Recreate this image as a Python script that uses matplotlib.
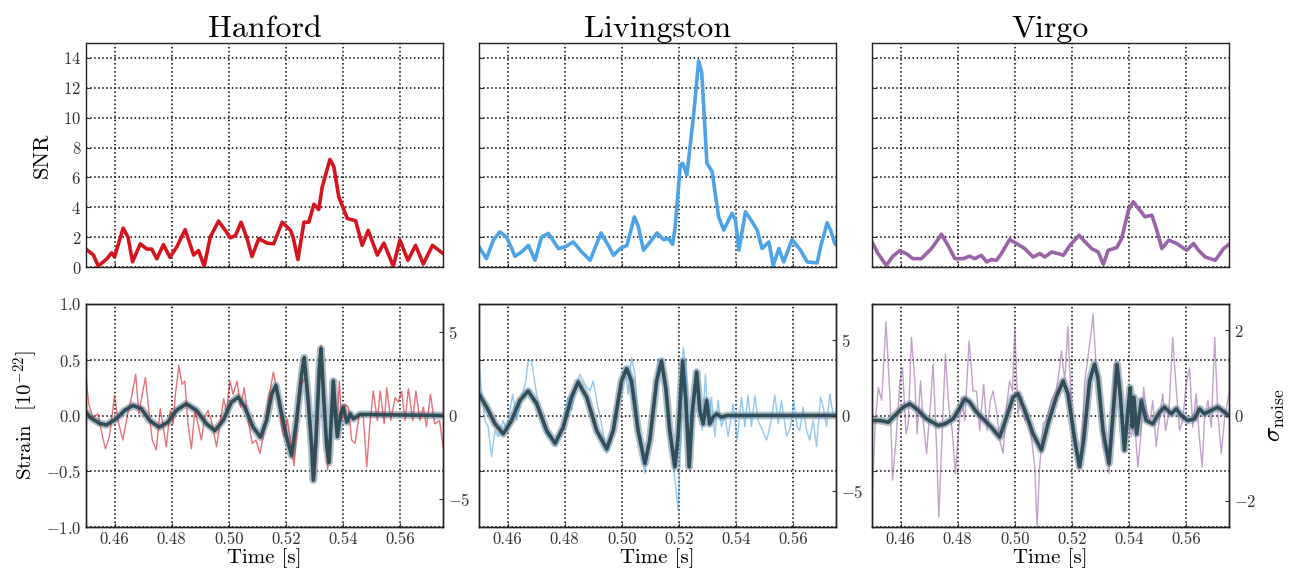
import numpy as np
import matplotlib
matplotlib.use("Agg")
from matplotlib import pyplot as plt

plt.rcParams["font.family"] = "serif"
plt.rcParams["font.serif"] = ["cmr10", "DejaVu Serif"]
plt.rcParams["mathtext.fontset"] = "cm"
plt.rcParams["axes.formatter.use_mathtext"] = True

# ---- data: (time [s], value) ----
# SNR time series
h_snr = np.array([
    [0.450, 1.2], [0.4526, 0.8], [0.4543, 0.05], [0.4573, 0.55], [0.459, 0.95], [0.460, 0.67],
    [0.463, 2.6], [0.4647, 2.0], [0.4663, 0.35], [0.469, 1.55], [0.4713, 1.2], [0.473, 1.2],
    [0.4748, 0.55], [0.4771, 1.5], [0.4794, 0.65], [0.4818, 1.35], [0.4847, 2.5], [0.4877, 0.8],
    [0.4894, 1.1], [0.4914, 0.05], [0.4935, 2.0], [0.4964, 3.07], [0.4988, 2.45], [0.5005, 1.95],
    [0.5023, 2.1], [0.5043, 3.0], [0.5064, 1.9], [0.5081, 0.7], [0.5105, 1.9], [0.5134, 1.6],
    [0.5157, 1.55], [0.5187, 3.0], [0.5216, 2.45], [0.5225, 2.0], [0.5242, 0.5], [0.5263, 3.0],
    [0.528, 3.0], [0.5298, 4.2], [0.5315, 3.85], [0.5327, 5.35], [0.5354, 7.2], [0.5368, 6.7],
    [0.5385, 4.7], [0.5415, 3.25], [0.5444, 3.1], [0.5467, 1.45], [0.5488, 2.45], [0.552, 0.8],
    [0.5543, 1.6], [0.5576, 0.05], [0.5599, 1.8], [0.5627, 0.45], [0.5654, 1.45], [0.5681, 0.2],
    [0.5713, 1.45], [0.575, 0.9]])

l_snr = np.array([
    [0.450, 1.35], [0.4526, 0.56], [0.455, 1.8], [0.4573, 2.35], [0.4597, 2.0], [0.4626, 0.72],
    [0.4649, 1.0], [0.4673, 1.45], [0.4696, 0.45], [0.4719, 2.0], [0.4743, 2.25], [0.4778, 1.23],
    [0.4801, 1.35], [0.483, 1.68], [0.486, 1.0], [0.4889, 0.45], [0.4927, 2.28], [0.4953, 1.45],
    [0.4971, 0.78], [0.4994, 1.23], [0.5018, 1.45], [0.5044, 3.36], [0.5058, 2.7], [0.5076, 1.12],
    [0.5099, 1.68], [0.5123, 2.28], [0.5146, 1.84], [0.5164, 1.9], [0.5178, 1.52], [0.5187, 2.7],
    [0.5205, 6.84], [0.5213, 6.95], [0.5228, 6.17], [0.5251, 10.1], [0.5269, 13.8], [0.528, 13.0],
    [0.5298, 6.95], [0.5316, 6.4], [0.5339, 3.36], [0.5357, 2.47], [0.5386, 3.6], [0.5398, 3.14],
    [0.541, 1.12], [0.5433, 3.7], [0.5456, 3.03], [0.5474, 2.47], [0.5491, 1.23], [0.5515, 1.68],
    [0.553, 0.11], [0.555, 1.23], [0.5567, 0.34], [0.5596, 1.84], [0.5626, 1.12], [0.5649, 0.34],
    [0.5684, 0.27], [0.5696, 1.35], [0.5719, 2.96], [0.5731, 2.47], [0.5746, 1.57], [0.575, 1.5]])

v_snr = np.array([
    [0.450, 1.68], [0.4521, 0.9], [0.455, 0.11], [0.4573, 0.72], [0.4596, 1.08], [0.462, 0.9],
    [0.4643, 0.56], [0.4673, 0.56], [0.4708, 1.23], [0.4725, 1.68], [0.4743, 2.2], [0.4766, 1.45],
    [0.479, 0.56], [0.4819, 0.56], [0.4842, 0.72], [0.486, 0.56], [0.4883, 0.78], [0.4901, 0.34],
    [0.4918, 0.5], [0.4936, 0.45], [0.4953, 0.9], [0.4982, 1.84], [0.5006, 1.57], [0.5035, 1.23],
    [0.5064, 0.67], [0.5088, 0.9], [0.5105, 0.67], [0.5129, 1.0], [0.5152, 0.9], [0.517, 0.78],
    [0.5193, 1.45], [0.5225, 2.13], [0.5246, 1.68], [0.5269, 1.23], [0.5292, 1.0], [0.531, 0.18],
    [0.5327, 1.12], [0.5357, 1.3], [0.5374, 1.9], [0.5398, 3.8], [0.5415, 4.37], [0.5433, 3.92],
    [0.5456, 3.36], [0.548, 3.47], [0.5497, 2.47], [0.5515, 1.23], [0.5539, 1.8], [0.5567, 1.57],
    [0.5602, 1.12], [0.5626, 1.57], [0.5643, 1.12], [0.5667, 0.67], [0.5702, 0.45], [0.5731, 1.23],
    [0.575, 1.52]])

# whitened data (thin lines), strain-axis units
h_data = np.array([
    [0.45, 0.34], [0.451, 0.10], [0.4524, -0.02], [0.4542, 0.015], [0.4553, -0.13], [0.4568, -0.3],
    [0.4582, -0.19], [0.46, 0.18], [0.4612, -0.045], [0.4629, -0.22], [0.4647, 0.03], [0.4658, 0.15],
    [0.4674, 0.37], [0.4685, 0.015], [0.4697, 0.19], [0.4708, 0.34], [0.472, 0.045], [0.4732, -0.22],
    [0.4746, -0.31], [0.476, 0.06], [0.477, -0.1], [0.4781, -0.28], [0.4795, 0.045], [0.4805, -0.075],
    [0.4813, 0.19], [0.4825, 0.45], [0.4836, 0.28], [0.4846, 0.31], [0.4857, -0.075], [0.4869, -0.3],
    [0.4881, 0.045], [0.4892, -0.075], [0.4904, -0.22], [0.4916, -0.015], [0.4927, 0.045],
    [0.4939, -0.045], [0.4957, -0.28], [0.4971, -0.045], [0.4982, 0.15], [0.4992, 0.03],
    [0.5004, 0.31], [0.5015, 0.19], [0.5029, 0.31], [0.5041, 0.075], [0.5054, 0.25], [0.5068, -0.045],
    [0.5082, -0.25], [0.5095, -0.22], [0.5109, -0.34], [0.5123, -0.15], [0.5138, 0.13], [0.5156, 0.39],
    [0.5173, 0.16], [0.5185, -0.1], [0.5193, -0.19], [0.5205, -0.03], [0.5214, -0.19], [0.5228, -0.45],
    [0.5243, 0.015], [0.5255, 0.28], [0.5267, 0.34], [0.5282, 0.015], [0.5294, -0.34], [0.5302, -0.55],
    [0.5311, -0.075], [0.5323, 0.63], [0.5337, 0.015], [0.5346, -0.49], [0.5358, -0.045], [0.5366, 0.22],
    [0.5378, -0.13], [0.5387, 0.31], [0.5395, -0.045], [0.5407, 0.10], [0.5419, 0.075], [0.543, -0.22],
    [0.5442, -0.25], [0.5457, 0.015], [0.5471, -0.015], [0.5483, -0.46], [0.5495, -0.045], [0.5506, 0.22],
    [0.552, -0.045], [0.553, 0.22], [0.5544, -0.075], [0.5553, 0.25], [0.5567, -0.045], [0.5582, 0.16],
    [0.5594, 0.12], [0.5605, 0.22], [0.5617, -0.045], [0.5629, 0.24], [0.5644, -0.045], [0.5655, 0.22],
    [0.5669, -0.045], [0.5681, 0.075], [0.5692, -0.1], [0.5706, 0.19], [0.5721, -0.075],
    [0.5738, -0.045], [0.575, -0.28]])

l_data = np.array([
    [0.45, 0.46], [0.4509, 0.22], [0.4521, -0.045], [0.4532, -0.1], [0.4544, -0.37], [0.4556, -0.135],
    [0.4567, -0.19], [0.4585, -0.045], [0.4596, -0.135], [0.4608, 0.045], [0.4618, 0.19],
    [0.4632, -0.045], [0.4649, 0.165], [0.4664, 0.31], [0.4672, 0.49], [0.4684, 0.49], [0.4696, 0.28],
    [0.471, 0.075], [0.4725, -0.1], [0.4739, -0.19], [0.4754, -0.19], [0.4769, -0.28], [0.4783, -0.19],
    [0.4797, -0.045], [0.4812, 0.165], [0.4824, 0.045], [0.4842, 0.28], [0.4853, 0.37], [0.4871, 0.28],
    [0.4888, 0.22], [0.49, 0.31], [0.4914, 0.105], [0.4929, -0.075], [0.4947, -0.34], [0.4964, -0.22],
    [0.4976, -0.075], [0.4987, 0.19], [0.4999, 0.31], [0.5011, 0.43], [0.5022, 0.19], [0.5034, 0.52],
    [0.5046, 0.37], [0.5057, -0.045], [0.5069, -0.34], [0.5081, -0.52], [0.5092, -0.28], [0.5104, -0.1],
    [0.5116, 0.165], [0.5127, 0.51], [0.5139, 0.43], [0.5151, 0.22], [0.5162, -0.1], [0.5178, -0.4],
    [0.5189, -0.64], [0.5197, -0.85], [0.5206, -0.28], [0.5215, 0.61], [0.5224, 0.46], [0.5233, -0.045],
    [0.5241, -0.4], [0.525, -0.045], [0.5262, 0.37], [0.5271, 0.31], [0.5281, -0.135], [0.5293, 0.37],
    [0.5302, -0.1], [0.5314, 0.165], [0.5326, -0.19], [0.5337, 0.135], [0.5349, -0.1], [0.5361, 0.0],
    [0.5372, -0.19], [0.539, 0.105], [0.5404, -0.22], [0.5419, 0.165], [0.5431, -0.1], [0.5442, 0.18],
    [0.5454, -0.1], [0.5466, 0.18], [0.5477, -0.045], [0.5493, -0.135], [0.5507, -0.22], [0.5521, -0.075],
    [0.5536, 0.18], [0.5548, -0.075], [0.5559, 0.135], [0.5577, -0.19], [0.5591, -0.1], [0.5602, 0.135],
    [0.5614, -0.1], [0.5623, -0.135], [0.5635, 0.075], [0.5647, -0.135], [0.5658, -0.22],
    [0.567, -0.045], [0.5682, -0.28], [0.5696, 0.165], [0.5705, 0.075], [0.5717, -0.1], [0.5728, 0.19],
    [0.574, 0.015], [0.575, -0.015]])

v_data = np.array([
    [0.45, -0.79], [0.4511, -0.075], [0.4522, 0.25], [0.4534, 0.135], [0.4549, 0.84], [0.4563, 0.165],
    [0.4572, -0.58], [0.4584, -0.22], [0.4598, 0.31], [0.4607, 0.43], [0.4619, -0.165], [0.4627, -0.075],
    [0.4638, 0.7], [0.465, 0.31], [0.4658, -0.165], [0.467, 0.31], [0.4679, -0.045], [0.4691, -0.34],
    [0.4703, 0.045], [0.4714, 0.46], [0.4726, -0.28], [0.4734, -0.91], [0.4746, -0.135], [0.4757, 0.55],
    [0.4769, 0.075], [0.4781, -0.135], [0.4792, -0.52], [0.4802, -0.19], [0.4813, 0.165],
    [0.4825, -0.045], [0.484, 0.67], [0.4854, 0.22], [0.4866, 0.22], [0.4877, -0.135], [0.4891, 0.28],
    [0.4903, -0.135], [0.4915, 0.135], [0.4924, 0.22], [0.4936, 0.045], [0.4947, -0.22], [0.4959, -0.34],
    [0.4971, 0.075], [0.4982, 0.31], [0.4992, 0.22], [0.5, 0.79], [0.5011, 0.015], [0.5023, 0.165],
    [0.5035, -0.045], [0.5046, 0.015], [0.5058, -0.19], [0.507, -0.46], [0.5078, -1.0], [0.5087, -0.46],
    [0.5099, -0.075], [0.511, -0.045], [0.5128, 0.135], [0.5145, 0.22], [0.5157, 0.43], [0.5163, 0.58],
    [0.5175, 0.31], [0.5186, 0.8], [0.5198, 0.075], [0.521, -0.28], [0.5221, -0.46], [0.5233, -0.34],
    [0.5245, 0.31], [0.5256, 0.52], [0.5268, 0.76], [0.5274, 0.91], [0.5285, 0.43], [0.5297, 0.22],
    [0.5309, -0.28], [0.532, -0.34], [0.533, -0.52], [0.5341, 0.075], [0.5349, 0.46], [0.5361, 0.31],
    [0.5373, 0.015], [0.5384, -0.28], [0.5396, -0.045], [0.5408, -0.19], [0.5419, -0.045],
    [0.5431, -0.46], [0.5443, -0.135], [0.5451, 0.25], [0.5462, 0.015], [0.5474, -0.045], [0.5483, 0.135],
    [0.5495, -0.28], [0.5507, -0.015], [0.5518, 0.195], [0.5528, -0.135], [0.5539, 0.015], [0.5553, 0.7],
    [0.5565, 0.25], [0.5577, -0.135], [0.5588, -0.045], [0.56, 0.28], [0.5612, 0.43], [0.5623, -0.105],
    [0.5635, 0.195], [0.5647, -0.22], [0.5656, -0.46], [0.5664, -0.045], [0.5676, 0.135],
    [0.5688, -0.105], [0.57, 0.7], [0.5711, 0.015], [0.5723, -0.34], [0.5735, -0.015], [0.575, 0.195]])

# waveform reconstructions (thick band), strain-axis units
h_rec = np.array([
    [0.450, 0.03], [0.4514, -0.015], [0.4547, -0.07], [0.4571, -0.085], [0.4606, -0.03], [0.4635, 0.045],
    [0.4664, 0.09], [0.4694, 0.06], [0.4723, -0.045], [0.4756, -0.105], [0.4787, -0.06], [0.4816, 0.045],
    [0.4851, 0.105], [0.4887, 0.045], [0.4922, -0.075], [0.4951, -0.135], [0.498, -0.045], [0.5009, 0.12],
    [0.5033, 0.165], [0.5056, 0.075], [0.5085, -0.105], [0.5111, -0.195], [0.5132, -0.045], [0.515, 0.19],
    [0.5165, 0.27], [0.5185, 0.015], [0.5202, -0.19], [0.522, -0.36], [0.5237, -0.045], [0.5255, 0.37],
    [0.5264, 0.52], [0.5278, 0.13], [0.529, -0.28], [0.5296, -0.58], [0.5305, -0.22], [0.5317, 0.43],
    [0.5323, 0.6], [0.5333, 0.13], [0.5343, -0.28], [0.5351, -0.42], [0.536, 0.015], [0.5366, 0.31],
    [0.5375, -0.045], [0.538, -0.19], [0.5392, 0.015], [0.5401, 0.075], [0.5413, -0.06], [0.5425, 0.015],
    [0.5436, -0.03], [0.546, 0.01], [0.575, 0.0]])

l_rec = np.array([
    [0.45, 0.19], [0.4527, 0.075], [0.4556, -0.075], [0.4585, -0.165], [0.4614, -0.045], [0.4643, 0.135],
    [0.4672, 0.22], [0.4702, 0.105], [0.4737, -0.135], [0.4766, -0.25], [0.4795, -0.105], [0.4824, 0.165],
    [0.4847, 0.3], [0.4877, 0.165], [0.4912, -0.135], [0.4947, -0.3], [0.497, -0.135], [0.4999, 0.31],
    [0.5017, 0.42], [0.5034, 0.31], [0.5057, -0.135], [0.5081, -0.43], [0.5098, -0.22], [0.5122, 0.31],
    [0.5139, 0.49], [0.5154, 0.25], [0.5168, -0.135], [0.5186, -0.46], [0.5197, -0.19], [0.5213, 0.49],
    [0.5224, 0.135], [0.5236, -0.46], [0.5246, 0.015], [0.5262, 0.39], [0.5273, 0.045], [0.5285, -0.075],
    [0.5297, 0.135], [0.5308, -0.075], [0.532, -0.015], [0.5332, 0.015], [0.5349, -0.015],
    [0.5367, 0.0], [0.575, 0.0]])

v_rec = np.array([
    [0.45, -0.045], [0.4528, -0.045], [0.4557, -0.06], [0.458, 0.0], [0.4609, 0.075], [0.4633, 0.105],
    [0.4662, 0.045], [0.4691, -0.03], [0.4732, -0.09], [0.4755, -0.075], [0.4784, -0.03], [0.4802, 0.045],
    [0.4825, 0.15], [0.4842, 0.12], [0.4866, 0.03], [0.4895, -0.045], [0.4918, -0.105], [0.4947, -0.195],
    [0.4971, -0.015], [0.4994, 0.165], [0.5011, 0.195], [0.5035, 0.045], [0.5064, -0.165],
    [0.5093, -0.31], [0.5116, -0.075], [0.5145, 0.165], [0.5169, 0.31], [0.5186, 0.195], [0.521, -0.22],
    [0.5227, -0.46], [0.5241, -0.22], [0.5262, 0.31], [0.5279, 0.46], [0.5291, 0.34], [0.5309, -0.135],
    [0.533, -0.43], [0.5346, 0.075], [0.5358, 0.46], [0.5369, 0.195], [0.5384, -0.31], [0.5396, 0.045],
    [0.5404, 0.25], [0.5411, -0.105], [0.5417, 0.165], [0.5427, -0.165], [0.5443, 0.135], [0.546, -0.045],
    [0.5483, -0.075], [0.5507, 0.03], [0.5524, 0.075], [0.5548, 0.015], [0.5565, 0.06], [0.5583, 0.0],
    [0.5606, -0.045], [0.5629, -0.03], [0.5647, 0.06], [0.5664, 0.015], [0.5687, 0.045], [0.5711, 0.075],
    [0.5734, 0.03], [0.575, 0.0]])

detectors = ["Hanford", "Livingston", "Virgo"]
colors = ["#d4151d", "#4da3e6", "#9a62a8"]
snr_series = [h_snr, l_snr, v_snr]
data_series = [h_data, l_data, v_data]
rec_series = [h_rec, l_rec, v_rec]
sigma_lim = [6.7, 7.4, 2.62]
sigma_ticks = [[-5, 0, 5], [-5, 0, 5], [-2, 0, 2]]

time_ticks = [0.46, 0.48, 0.50, 0.52, 0.54, 0.56]

fig = plt.figure(figsize=(12.93, 5.74), dpi=100)
lefts = [86 / 1293, 479 / 1293, 872 / 1293]
w = 357 / 1293
top_b, top_h = 1 - 267 / 574, 224 / 574
bot_b, bot_h = 1 - 527 / 574, 223 / 574

grid_kw = dict(color="k", linestyle=":", linewidth=1.1)


def style(ax):
    ax.tick_params(direction="in", length=3, labelsize=12, colors="#333333")
    for s in ax.spines.values():
        s.set_color("#222222")
        s.set_linewidth(1.0)


for i in range(3):
    # SNR panel
    ax = fig.add_axes([lefts[i], top_b, w, top_h])
    snr = snr_series[i]
    ax.plot(snr[:, 0], snr[:, 1], color=colors[i], lw=2.6, solid_joinstyle="round")
    ax.set_xlim(0.45, 0.575)
    ax.set_ylim(0, 15)
    ax.set_xticks(time_ticks)
    ax.set_yticks(range(0, 15, 2))
    ax.grid(True, **grid_kw)
    ax.tick_params(labelbottom=False)
    style(ax)
    if i == 0:
        ax.set_ylabel("SNR", fontsize=16, labelpad=8)
    else:
        ax.tick_params(labelleft=False)
    ax.set_title(detectors[i], fontsize=23, pad=2)

    # strain panel
    ax = fig.add_axes([lefts[i], bot_b, w, bot_h])
    d = data_series[i]
    r = rec_series[i]
    ax.plot(r[:, 0], r[:, 1], color="#8ea3b3", lw=5.5, alpha=0.7, zorder=3,
            solid_joinstyle="round", solid_capstyle="round")
    ax.plot(d[:, 0], d[:, 1], color=colors[i], lw=1.0, alpha=0.6, zorder=4)
    ax.plot(r[:, 0], r[:, 1], color="#2b4953", lw=2.6, alpha=0.95, zorder=5,
            solid_joinstyle="round", solid_capstyle="round")
    ax.set_xlim(0.45, 0.575)
    ax.set_ylim(-1, 1)
    ax.set_xticks(time_ticks)
    ax.set_xticklabels(["%.2f" % t for t in time_ticks])
    ax.set_yticks([-1, -0.5, 0, 0.5, 1])
    ax.grid(True, **grid_kw)
    style(ax)
    ax.set_xlabel("Time [s]", fontsize=15, labelpad=1)
    if i == 0:
        ax.set_yticklabels(["$-1.0$", "$-0.5$", "$0.0$", "$0.5$", "$1.0$"])
        ax.set_ylabel(r"Strain  [10$^{\mathrm{-22}}$]", fontsize=15, labelpad=4)
    else:
        ax.tick_params(labelleft=False)

    ax2 = ax.twinx()
    ax2.set_ylim(-sigma_lim[i], sigma_lim[i])
    ax2.set_yticks(sigma_ticks[i])
    style(ax2)
    if i == 2:
        ax2.set_ylabel(r"$\sigma_{\mathrm{noise}}$", fontsize=18, labelpad=6)

fig.savefig("out.png", dpi=100)
